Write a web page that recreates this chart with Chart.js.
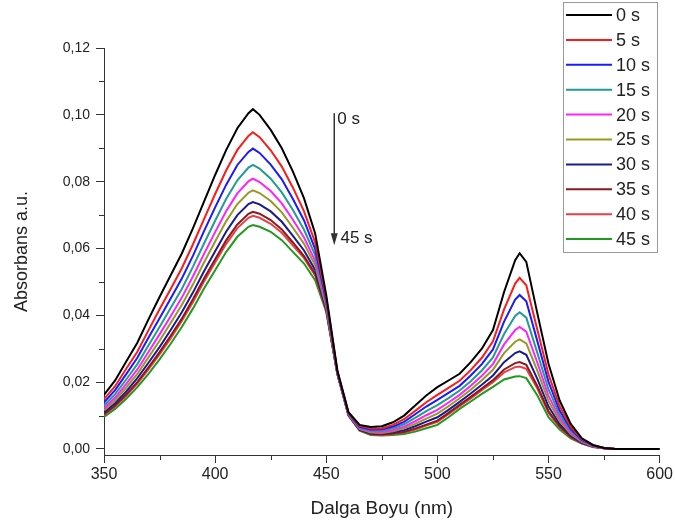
<!DOCTYPE html>
<html>
<head>
<meta charset="utf-8">
<script src="https://cdn.jsdelivr.net/npm/chart.js@4"></script>
<style>
  html, body { margin: 0; padding: 0; background: #fff; }
  canvas { display: block; }
</style>
</head>
<body>
<canvas id="absChart" width="675" height="525"></canvas>
<script>
// Wavelengths (nm)
const wavelengths = [350,355,360,365,370,375,380,385,390,395,400,405,410,415,417,420,425,430,435,440,445,450,455,460,465,470,475,480,485,490,495,500,505,510,515,520,525,530,535,537,540,545,550,555,560,565,570,575,580,590,600];

// Absorbance, one array per time
const abs0s  = [.0162,.0205,.0262,.0318,.0388,.0455,.0520,.0585,.0660,.0740,.0820,.0895,.0960,.1005,.1017,.1000,.0955,.0900,.0830,.0750,.0645,.0460,.0235,.0110,.0072,.0066,.0068,.0080,.0100,.0130,.0160,.0185,.0205,.0225,.0260,.0300,.0356,.0470,.0565,.0586,.0560,.0405,.0255,.0145,.0075,.0032,.0012,.0003,0,0,0];
const abs5s  = [.0149,.0188,.0240,.0291,.0355,.0418,.0479,.0541,.0612,.0688,.0763,.0834,.0895,.0937,.0948,.0933,.0894,.0845,.0782,.0711,.0618,.0450,.0232,.0108,.0069,.0061,.0062,.0072,.0089,.0114,.0140,.0162,.0183,.0204,.0236,.0273,.0322,.0418,.0495,.0512,.0490,.0356,.0223,.0128,.0066,.0029,.0011,.0003,0,0,0];
const abs10s = [.0140,.0176,.0224,.0273,.0333,.0391,.0450,.0510,.0578,.0652,.0723,.0791,.0850,.0889,.0899,.0886,.0851,.0807,.0748,.0684,.0598,.0443,.0231,.0107,.0066,.0058,.0059,.0067,.0081,.0104,.0127,.0147,.0168,.0189,.0220,.0254,.0298,.0381,.0447,.0461,.0442,.0322,.0201,.0115,.0060,.0027,.0010,.0003,0,0,0];
const abs15s = [.0130,.0164,.0208,.0254,.0310,.0365,.0422,.0479,.0545,.0615,.0683,.0749,.0804,.0842,.0850,.0839,.0809,.0768,.0715,.0656,.0580,.0436,.0229,.0105,.0064,.0055,.0055,.0062,.0074,.0093,.0113,.0131,.0152,.0175,.0203,.0235,.0274,.0344,.0398,.0409,.0393,.0287,.0178,.0103,.0054,.0024,.0009,.0003,0,0,0];
const abs20s = [.0122,.0154,.0195,.0238,.0290,.0343,.0397,.0453,.0516,.0584,.0649,.0712,.0765,.0801,.0809,.0799,.0772,.0735,.0686,.0633,.0563,.0430,.0228,.0104,.0062,.0052,.0051,.0057,.0067,.0083,.0101,.0117,.0139,.0162,.0189,.0219,.0254,.0313,.0356,.0365,.0351,.0258,.0159,.0093,.0049,.0022,.0008,.0002,0,0,0];
const abs25s = [.0116,.0146,.0184,.0225,.0274,.0324,.0377,.0431,.0492,.0558,.0621,.0682,.0733,.0767,.0774,.0766,.0742,.0708,.0662,.0614,.0550,.0425,.0227,.0103,.0060,.0049,.0048,.0053,.0062,.0075,.0091,.0106,.0128,.0152,.0177,.0206,.0237,.0287,.0321,.0328,.0316,.0234,.0143,.0084,.0045,.0021,.0008,.0002,0,0,0];
const abs30s = [.0109,.0137,.0172,.0212,.0258,.0305,.0356,.0409,.0468,.0532,.0592,.0651,.0700,.0733,.0739,.0732,.0711,.0680,.0638,.0594,.0536,.0420,.0226,.0102,.0058,.0047,.0046,.0050,.0056,.0068,.0082,.0095,.0117,.0141,.0166,.0192,.0220,.0260,.0287,.0292,.0282,.0209,.0127,.0075,.0041,.0019,.0007,.0002,0,0,0];
const abs35s = [.0104,.0130,.0163,.0200,.0244,.0290,.0339,.0390,.0448,.0510,.0568,.0625,.0672,.0704,.0710,.0704,.0685,.0657,.0618,.0577,.0524,.0416,.0225,.0101,.0057,.0045,.0043,.0046,.0051,.0061,.0073,.0085,.0108,.0132,.0156,.0181,.0206,.0238,.0257,.0260,.0252,.0188,.0113,.0068,.0037,.0018,.0007,.0002,0,0,0];
const abs40s = [.0101,.0127,.0159,.0196,.0238,.0283,.0331,.0383,.0439,.0501,.0558,.0614,.0661,.0692,.0698,.0692,.0674,.0647,.0609,.0571,.0519,.0414,.0225,.0101,.0056,.0044,.0042,.0045,.0049,.0058,.0070,.0081,.0104,.0128,.0151,.0176,.0200,.0229,.0245,.0247,.0240,.0180,.0108,.0065,.0035,.0017,.0006,.0002,0,0,0];
const abs45s = [.0096,.0120,.0150,.0185,.0225,.0268,.0315,.0365,.0420,.0480,.0535,.0590,.0635,.0665,.0670,.0665,.0650,.0625,.0590,.0555,.0505,.0410,.0224,.0100,.0055,.0042,.0040,.0042,.0045,.0052,.0062,.0072,.0095,.0120,.0142,.0165,.0186,.0208,.0217,.0218,.0212,.0160,.0095,.0058,.0032,.0016,.0006,.0002,0,0,0];

const seriesLabels = ['0 s','5 s','10 s','15 s','20 s','25 s','30 s','35 s','40 s','45 s'];
const seriesValues = [abs0s, abs5s, abs10s, abs15s, abs20s, abs25s, abs30s, abs35s, abs40s, abs45s];
const seriesColors = ['#000000','#ff1a1a','#1a1aff','#229a96','#ff22ff','#999922','#1a1a8f','#8b1a1a','#e8404a','#1f9a1f'];

// Tick values
const xTicks = [350,375,400,425,450,475,500,525,550,575,600];
const yTicks = [0,0.01,0.02,0.03,0.04,0.05,0.06,0.07,0.08,0.09,0.10,0.11,0.12];

const fontFamily = "'Liberation Sans', Arial, sans-serif";
const axisColor = '#333333';

const isMajorX = v => v % 50 === 0;
const isMajorY = v => Math.round(v * 100) % 2 === 0;

// Minor ticks, arrow annotation and legend box
const extrasPlugin = {
    id: 'extras',
    afterDraw(chart) {
        const ctx = chart.ctx;
        const xs = chart.scales.x;
        const ys = chart.scales.y;

        // Minor ticks (shorter)
        ctx.save();
        ctx.strokeStyle = axisColor;
        ctx.lineWidth = 1;
        xTicks.filter(v => !isMajorX(v)).forEach(v => {
            const px = Math.round(xs.getPixelForValue(v)) + 0.5;
            ctx.beginPath();
            ctx.moveTo(px, xs.top);
            ctx.lineTo(px, xs.top + 5);
            ctx.stroke();
        });
        yTicks.filter(v => !isMajorY(v)).forEach(v => {
            const py = Math.round(ys.getPixelForValue(v)) + 0.5;
            ctx.beginPath();
            ctx.moveTo(ys.right, py);
            ctx.lineTo(ys.right - 5, py);
            ctx.stroke();
        });
        ctx.restore();

        // Arrow 0 s -> 45 s
        ctx.save();
        const ax = xs.getPixelForValue(453.6);
        const ay1 = ys.getPixelForValue(0.1005);
        const ay2 = ys.getPixelForValue(0.0610);
        ctx.strokeStyle = axisColor;
        ctx.fillStyle = axisColor;
        ctx.lineWidth = 1.5;
        ctx.beginPath();
        ctx.moveTo(ax, ay1);
        ctx.lineTo(ax, ay2 - 8);
        ctx.stroke();
        ctx.beginPath();
        ctx.moveTo(ax, ay2);
        ctx.lineTo(ax - 3.5, ay2 - 12);
        ctx.lineTo(ax + 3.5, ay2 - 12);
        ctx.closePath();
        ctx.fill();
        ctx.font = '17px ' + fontFamily;
        ctx.fillStyle = '#222';
        ctx.textBaseline = 'middle';
        ctx.textAlign = 'left';
        ctx.fillText('0 s', xs.getPixelForValue(455.0), ys.getPixelForValue(0.0987));
        ctx.fillText('45 s', xs.getPixelForValue(456.4), ys.getPixelForValue(0.0631));
        ctx.restore();

        // Legend box
        ctx.save();
        const bx = 563.5, by = 2.5, bw = 94, bh = 250;
        ctx.fillStyle = '#fff';
        ctx.fillRect(bx, by, bw, bh);
        ctx.strokeStyle = '#999';
        ctx.lineWidth = 1;
        ctx.strokeRect(bx, by, bw, bh);
        ctx.font = '18px ' + fontFamily;
        ctx.textBaseline = 'middle';
        ctx.textAlign = 'left';
        seriesLabels.forEach((lab, i) => {
            const ly = 15 + i * 24.9;
            ctx.strokeStyle = seriesColors[i];
            ctx.lineWidth = 2;
            ctx.beginPath();
            ctx.moveTo(566, ly);
            ctx.lineTo(612, ly);
            ctx.stroke();
            ctx.fillStyle = '#222';
            ctx.fillText(lab, 616, ly + 1);
        });
        ctx.restore();
    }
};

const ctx = document.getElementById('absChart').getContext('2d');
const absChart = new Chart(ctx, {
    type: 'line',
    data: {
        datasets: seriesValues.map((vals, i) => ({
            label: seriesLabels[i],
            data: wavelengths.map((w, j) => ({x: w, y: vals[j]})),
            borderColor: seriesColors[i],
            backgroundColor: seriesColors[i],
            borderWidth: 2,
            pointRadius: 0,
            tension: 0,
            fill: false
        }))
    },
    options: {
        responsive: false,
        animation: false,
        devicePixelRatio: 1,
        layout: {
            padding: {top: 48, right: 14, left: 0, bottom: 0}
        },
        plugins: {
            legend: {display: false},
            tooltip: {enabled: false}
        },
        scales: {
            x: {
                type: 'linear',
                min: 350,
                max: 600,
                afterFit: s => { s.height = 70; },
                afterBuildTicks: s => { s.ticks = xTicks.map(v => ({value: v})); },
                ticks: {
                    autoSkip: false,
                    maxRotation: 0,
                    padding: 2,
                    color: '#222',
                    font: {family: fontFamily, size: 16},
                    callback: v => isMajorX(v) ? String(v) : ''
                },
                grid: {
                    drawOnChartArea: false,
                    drawTicks: true,
                    tickLength: 8,
                    color: c => (c.tick && isMajorX(c.tick.value)) ? axisColor : 'rgba(0,0,0,0)'
                },
                border: {display: true, color: axisColor, width: 1},
                title: {
                    display: true,
                    text: 'Dalga Boyu (nm)',
                    color: '#222',
                    font: {family: fontFamily, size: 19},
                    padding: {top: 0, bottom: 5}
                }
            },
            y: {
                min: -0.0018,
                max: 0.12,
                afterFit: s => { s.width = 104; },
                afterBuildTicks: s => { s.ticks = yTicks.map(v => ({value: v})); },
                ticks: {
                    autoSkip: false,
                    padding: 6,
                    color: '#222',
                    font: {family: fontFamily, size: 14},
                    callback: v => isMajorY(v) ? v.toFixed(2).replace('.', ',') : ''
                },
                grid: {
                    drawOnChartArea: false,
                    drawTicks: true,
                    tickLength: 8,
                    color: c => (c.tick && isMajorY(c.tick.value)) ? axisColor : 'rgba(0,0,0,0)'
                },
                border: {display: true, color: axisColor, width: 1},
                title: {
                    display: true,
                    text: 'Absorbans a.u.',
                    color: '#222',
                    font: {family: fontFamily, size: 18},
                    padding: {top: 11, bottom: 0}
                }
            }
        }
    },
    plugins: [extrasPlugin]
});
</script>
</body>
</html>
